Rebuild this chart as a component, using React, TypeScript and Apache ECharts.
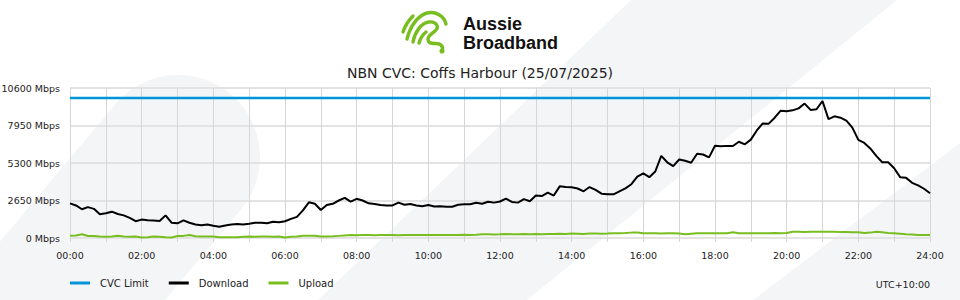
import React, { useEffect, useRef } from "react";
import * as echarts from "echarts";

// ---- Data (10-minute samples, 00:00 .. 24:00) ----
const titleText = "NBN CVC: Coffs Harbour (25/07/2025)";
const seriesNames = ["CVC Limit", "Download", "Upload"];
const cvcLimit = 9900; // Mbps
const yTicks = [0, 2650, 5300, 7950, 10600];

const download = [
  2450, 2300, 2030, 2180, 2060, 1675, 1745, 1860, 1700, 1600,
  1420, 1190, 1300, 1250, 1230, 1200, 1600, 1080, 1040, 1250,
  1080, 950, 900, 960, 870, 800, 880, 950, 990, 950,
  1000, 1070, 1080, 1040, 1150, 1120, 1180, 1350, 1490, 1950,
  2520, 2420, 1980, 2330, 2420, 2650, 2830, 2570, 2770, 2650,
  2450, 2400, 2330, 2300, 2300, 2500, 2350, 2400, 2300, 2250,
  2330, 2220, 2250, 2200, 2210, 2350, 2380, 2380, 2490, 2420,
  2560, 2500, 2580, 2780, 2550, 2500, 2750, 2600, 3000, 2960,
  3200, 3000, 3650, 3600, 3580, 3500, 3300, 3600, 3400, 3130,
  3090, 3090, 3300, 3510, 3800, 4330, 4560, 4300, 4700, 5800,
  5350, 5080, 5550, 5460, 5320, 5950, 5900, 5700, 6520, 6480,
  6510, 6500, 6800, 6620, 6950, 7600, 8100, 8080, 8500, 9000,
  8950, 9020, 9160, 9500, 9050, 9100, 9680, 8400, 8600, 8500,
  8300, 7800, 6930, 6720, 6330, 5800, 5350, 5350, 4930, 4300,
  4250, 3900, 3720, 3480, 3160,
];

const upload = [
  160, 170, 260, 140, 140, 100, 95, 100, 160, 100,
  95, 100, 40, 45, 100, 95, 45, 40, 140, 150,
  210, 130, 110, 110, 100, 50, 45, 50, 45, 95,
  100, 95, 100, 100, 95, 100, 30, 95, 100, 160,
  165, 160, 100, 100, 120, 150, 180, 210, 200, 215,
  210, 200, 210, 220, 210, 200, 215, 210, 205, 215,
  210, 215, 220, 210, 220, 215, 225, 220, 230, 260,
  270, 255, 265, 280, 270, 260, 275, 270, 280, 270,
  290, 280, 300, 290, 310, 300, 290, 310, 320, 300,
  310, 330, 340, 350, 380, 390, 340, 330, 330, 320,
  330, 330, 320, 260, 300, 330, 340, 330, 330, 340,
  335, 400, 340, 330, 335, 340, 330, 340, 345, 340,
  350, 440, 450, 430, 445, 440, 450, 440, 445, 430,
  420, 410, 400, 360, 380, 440, 400, 350, 340, 300,
  260, 240, 220, 220, 210,
];

const FONT = "DejaVu Sans";
const GRAY_BG = "#f4f5f7";
const GREEN = "#78be20";
const AXIS_FS = 9.5;

// Aussie Broadband-style icon strokes (local coordinates)
const logoPath =
  "M5,24 Q8,15 15,8 " +
  "M9,31 C12,19 19,8 29,5 C38,3 46,8 48,16 " +
  "M15,34 C17,24 23,15 31,14 C38,13 42,19 37,23 C32,27 28,30 31,34 C34,37 40,34 43,37 C45,39 45,41 44,43 " +
  "M21,35 Q23,28 28,24";

let logoRegistered = false;
function registerLogo() {
  if (logoRegistered) return;
  echarts.graphic.registerShape("abbLogo", echarts.graphic.extendPath(logoPath, {}) as any);
  logoRegistered = true;
}

function blobPoints(): number[][] {
  const a = (50 * Math.PI) / 180;
  const u = [Math.cos(a), -Math.sin(a)];
  const n = [Math.sin(a), Math.cos(a)];
  const C = [178, 157];
  const r = 82;
  const pts: number[][] = [];
  for (let k = 0; k <= 36; k++) {
    const phi = (k / 36) * Math.PI;
    pts.push([
      C[0] + r * (Math.cos(phi) * n[0] + Math.sin(phi) * u[0]),
      C[1] + r * (Math.cos(phi) * n[1] + Math.sin(phi) * u[1]),
    ]);
  }
  const L = 600;
  pts.push([C[0] - r * n[0] - L * u[0], C[1] - r * n[1] - L * u[1]]);
  pts.push([C[0] + r * n[0] - L * u[0], C[1] + r * n[1] - L * u[1]]);
  return pts;
}

const pad2 = (v: number) => (v < 10 ? "0" + v : "" + v);

export default function App() {
  const ref = useRef<HTMLDivElement>(null);
  useEffect(() => {
    if (!ref.current) return;
    registerLogo();
    const chart = echarts.init(ref.current, undefined, { renderer: "svg" });
    const times = download.map((_, i) => i / 6);
    const logoText = (text: string, y: number) => ({
      type: "text",
      x: 463,
      y,
      silent: true,
      style: {
        text,
        fontFamily: "Liberation Sans",
        fontWeight: "bold",
        fontSize: 18,
        lineHeight: 18,
        fill: "#111",
        verticalAlign: "top",
      },
    });
    const option: any = {
      animation: false,
      backgroundColor: "#ffffff",
      textStyle: { fontFamily: FONT },
      title: {
        text: titleText,
        left: "center",
        top: 61,
        textStyle: { fontFamily: FONT, fontSize: 14, fontWeight: "normal", color: "#222" },
      },
      grid: { left: 70, right: 30, top: 88, bottom: 62, containLabel: false, outerBoundsMode: "none" },
      legend: {
        left: 70,
        top: 278,
        padding: 0,
        icon: "rect",
        itemWidth: 20,
        itemHeight: 3,
        itemGap: 20,
        data: seriesNames,
        textStyle: { fontFamily: FONT, fontSize: 10, color: "#222", padding: [0, 0, 0, 5] },
      },
      xAxis: {
        type: "value",
        min: 0,
        max: 24,
        interval: 1,
        axisLine: { show: false },
        axisTick: { show: true, length: 4, lineStyle: { color: "#d6d6d6" } },
        splitLine: { show: true, lineStyle: { color: "#d6d6d6", width: 1 } },
        axisLabel: {
          margin: 12,
          fontFamily: FONT,
          fontSize: AXIS_FS,
          color: "#222",
          formatter: (v: number) => (v % 2 === 0 ? pad2(v) + ":00" : ""),
        },
      },
      yAxis: {
        type: "value",
        min: yTicks[0],
        max: yTicks[yTicks.length - 1],
        interval: yTicks[1] - yTicks[0],
        axisLine: { show: false },
        axisTick: { show: false },
        splitLine: { show: true, lineStyle: { color: "#e3e3e3", width: 2 } },
        axisLabel: {
          margin: 10,
          fontFamily: FONT,
          fontSize: AXIS_FS,
          color: "#222",
          formatter: (v: number) => v + " Mbps",
        },
      },
      graphic: {
        elements: [
          { type: "polygon", z: -10, silent: true, shape: { points: blobPoints() }, style: { fill: GRAY_BG } },
          {
            type: "polygon",
            z: -10,
            silent: true,
            shape: { points: [[631, 0], [897, 0], [527, 300], [318, 300]] },
            style: { fill: GRAY_BG },
          },
          {
            type: "polygon",
            z: -10,
            silent: true,
            shape: { points: [[960, 143], [960, 300], [753, 300]] },
            style: { fill: GRAY_BG },
          },
          {
            type: "abbLogo",
            x: 398,
            y: 8,
            silent: true,
            style: { stroke: GREEN, fill: null, lineWidth: 3.4, lineCap: "round", lineJoin: "round" },
          },
          { type: "circle", silent: true, shape: { cx: 442, cy: 51, r: 2.6 }, style: { fill: GREEN } },
          logoText("Aussie", 15),
          logoText("Broadband", 34),
          {
            type: "text",
            x: 930,
            y: 284,
            silent: true,
            style: {
              text: "UTC+10:00",
              fontFamily: FONT,
              fontSize: AXIS_FS,
              fill: "#222",
              align: "right",
              verticalAlign: "middle",
            },
          },
        ],
      },
      series: [
        {
          name: seriesNames[0],
          type: "line",
          showSymbol: false,
          symbol: "none",
          color: "#0095d9",
          lineStyle: { width: 2.5, color: "#0095d9" },
          data: [
            [0, cvcLimit],
            [24, cvcLimit],
          ],
          z: 3,
        },
        {
          name: seriesNames[1],
          type: "line",
          showSymbol: false,
          symbol: "none",
          color: "#000000",
          lineStyle: { width: 2, color: "#000000" },
          data: times.map((t, i) => [t, download[i]]),
          z: 4,
        },
        {
          name: seriesNames[2],
          type: "line",
          showSymbol: false,
          symbol: "none",
          color: GREEN,
          lineStyle: { width: 2, color: GREEN },
          data: times.map((t, i) => [t, upload[i]]),
          z: 3,
        },
      ],
    };
    chart.setOption(option);
    return () => chart.dispose();
  }, []);
  return (
    <div
      ref={ref}
      style={{ position: "fixed", left: 0, top: 0, width: 960, height: 300 }}
    />
  );
}
